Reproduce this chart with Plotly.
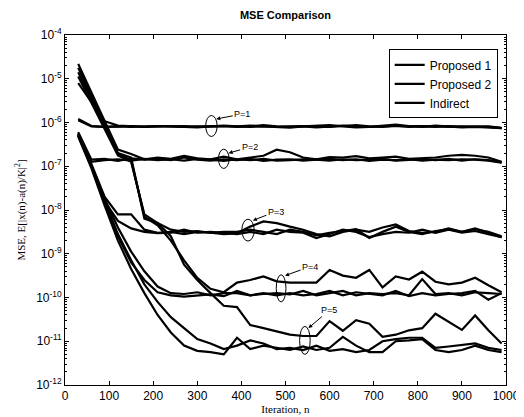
import plotly.graph_objects as go

# Iteration index (samples every 30 iterations)
iterations = [30, 60, 90, 120, 150, 180, 210, 240, 270, 300, 330, 360, 390, 420, 450, 480,
              510, 540, 570, 600, 630, 660, 690, 720, 750, 780, 810, 840, 870, 900, 930, 960, 990]

# log10(MSE) values
p1_prop1 = [-5.92, -6.08, -6.10, -6.09, -6.10, -6.09, -6.08, -6.09, -6.10, -6.09, -6.09, -6.10, -6.09, -6.07, -6.09, -6.10,
            -6.09, -6.08, -6.09, -6.10, -6.08, -6.06, -6.09, -6.10, -6.08, -6.09, -6.08, -6.09, -6.10, -6.09, -6.09, -6.10, -6.13]
p1_prop2 = [-5.95, -6.09, -6.10, -6.09, -6.08, -6.10, -6.09, -6.09, -6.08, -6.10, -6.09, -6.08, -6.10, -6.09, -6.06, -6.09,
            -6.10, -6.09, -6.11, -6.09, -6.07, -6.09, -6.10, -6.09, -6.07, -6.10, -6.09, -6.10, -6.08, -6.10, -6.09, -6.09, -6.12]
p1_ind = [-5.10, -5.55, -5.97, -6.07, -6.09, -6.10, -6.08, -6.09, -6.10, -6.11, -6.09, -6.07, -6.09, -6.10, -6.09, -6.10,
          -6.12, -6.09, -6.08, -6.06, -6.09, -6.11, -6.10, -6.08, -6.05, -6.08, -6.10, -6.07, -6.09, -6.11, -6.10, -6.11, -6.13]

p2_prop1 = [-6.22, -6.85, -6.83, -6.88, -6.82, -6.85, -6.83, -6.86, -6.80, -6.85, -6.87, -6.84, -6.86, -6.83, -6.88, -6.85,
            -6.84, -6.87, -6.85, -6.83, -6.86, -6.84, -6.88, -6.85, -6.86, -6.84, -6.87, -6.85, -6.86, -6.84, -6.85, -6.87, -6.92]
p2_prop2 = [-6.25, -6.90, -6.86, -6.84, -6.87, -6.83, -6.86, -6.84, -6.87, -6.83, -6.85, -6.88, -6.84, -6.86, -6.83, -6.87,
            -6.86, -6.84, -6.85, -6.87, -6.84, -6.86, -6.85, -6.83, -6.87, -6.85, -6.84, -6.86, -6.83, -6.87, -6.84, -6.86, -6.91]
p2_ind = [-4.66, -5.32, -5.98, -6.62, -6.72, -6.84, -6.80, -6.83, -6.76, -6.82, -6.84, -6.78, -6.84, -6.80, -6.76, -6.62,
          -6.68, -6.80, -6.84, -6.79, -6.80, -6.77, -6.82, -6.80, -6.78, -6.83, -6.82, -6.80, -6.76, -6.74, -6.76, -6.80, -6.90]

p3_prop1 = [-6.25, -6.95, -7.70, -8.10, -8.10, -8.45, -8.52, -8.50, -8.55, -8.50, -8.52, -8.55, -8.53, -8.38, -8.26, -8.30,
            -8.38, -8.45, -8.55, -8.60, -8.50, -8.45, -8.50, -8.40, -8.33, -8.48, -8.52, -8.50, -8.42, -8.50, -8.42, -8.52, -8.62]
p3_prop2 = [-6.27, -7.00, -7.80, -8.25, -8.42, -8.50, -8.53, -8.52, -8.45, -8.52, -8.50, -8.52, -8.55, -8.50, -8.55, -8.45,
            -8.50, -8.52, -8.64, -8.55, -8.45, -8.50, -8.62, -8.55, -8.50, -8.52, -8.45, -8.52, -8.45, -8.52, -8.48, -8.55, -8.62]
p3_ind = [-4.75, -5.40, -6.05, -6.70, -6.80, -8.20, -8.30, -8.45, -8.50, -8.48, -8.52, -8.50, -8.50, -8.45, -8.50, -8.55,
          -8.45, -8.50, -8.58, -8.52, -8.48, -8.44, -8.64, -8.50, -8.38, -8.50, -8.55, -8.48, -8.44, -8.50, -8.44, -8.50, -8.60]

p4_prop1 = [-6.30, -7.00, -7.85, -8.60, -9.20, -9.60, -9.88, -9.95, -9.98, -9.95, -9.93, -9.97, -9.85, -9.95, -9.90, -9.95,
            -9.90, -9.95, -9.92, -9.85, -9.95, -9.88, -9.92, -9.95, -9.85, -9.97, -9.90, -9.95, -9.92, -9.90, -9.85, -10.05, -9.90]
p4_prop2 = [-6.28, -6.98, -7.75, -8.40, -8.95, -9.40, -9.75, -9.90, -9.92, -9.88, -9.95, -9.90, -9.90, -9.95, -9.92, -9.90,
            -9.93, -9.85, -9.95, -9.90, -9.85, -9.95, -9.90, -9.92, -9.90, -9.95, -9.58, -9.92, -9.90, -9.95, -9.88, -9.90, -9.92]
p4_ind = [-4.85, -5.48, -6.10, -6.72, -6.86, -8.15, -8.35, -8.70, -9.15, -9.55, -9.80, -9.88, -9.66, -9.60, -9.52, -9.63,
          -9.66, -9.66, -9.66, -9.37, -9.50, -9.55, -9.37, -9.77, -9.52, -9.59, -9.41, -9.64, -9.70, -9.66, -9.55, -9.72, -9.88]

p5_prop1 = [-6.32, -7.05, -7.90, -8.70, -9.35, -9.90, -10.40, -10.80, -11.10, -11.22, -11.25, -11.30, -10.92, -11.18, -11.10, -11.15,
            -11.20, -11.12, -11.20, -11.15, -10.90, -11.10, -11.25, -11.25, -11.00, -10.98, -10.95, -11.20, -11.25, -11.20, -11.10, -11.20, -11.25]
p5_prop2 = [-6.30, -7.00, -7.80, -8.55, -9.15, -9.70, -10.10, -10.45, -10.70, -10.95, -11.05, -11.18, -11.10, -10.98, -11.05, -11.18,
            -11.15, -11.20, -11.10, -11.22, -11.18, -11.25, -11.20, -11.00, -10.95, -10.92, -10.92, -11.15, -11.12, -11.08, -11.05, -11.15, -11.20]
p5_ind = [-4.95, -5.55, -6.15, -6.75, -6.90, -8.10, -8.30, -8.60, -9.25, -9.60, -9.90, -10.19, -10.22, -10.63, -10.70, -10.78,
          -10.85, -10.88, -10.88, -10.54, -10.76, -10.52, -10.60, -10.90, -10.85, -10.75, -10.70, -10.37, -10.55, -10.74, -10.41, -10.75, -11.05]

series = {
    "Proposed 1": [p1_prop1, p2_prop1, p3_prop1, p4_prop1, p5_prop1],
    "Proposed 2": [p1_prop2, p2_prop2, p3_prop2, p4_prop2, p5_prop2],
    "Indirect": [p1_ind, p2_ind, p3_ind, p4_ind, p5_ind],
}

x_ticks = [0, 100, 200, 300, 400, 500, 600, 700, 800, 900, 1000]
y_decades = [-12, -11, -10, -9, -8, -7, -6, -5, -4]
y_tick_labels = ["10<sup>-12</sup>", "10<sup>-11</sup>", "10<sup>-10</sup>", "10<sup>-9</sup>", "10<sup>-8</sup>",
                 "10<sup>-7</sup>", "10<sup>-6</sup>", "10<sup>-5</sup>", "10<sup>-4</sup>"]

# annotation markers: label, ellipse centre (iteration, log10), arrow head, ellipse half-size (iter, decades), label offset px
labels = [
    ("P=1", 332, -6.08, 343, -5.92, 13, 0.24, 26, -5),
    ("P=2", 360, -6.83, 371, -6.70, 12, 0.22, 21, -6),
    ("P=3", 415, -8.46, 426, -8.24, 14, 0.25, 23, -9),
    ("P=4", 490, -9.79, 499, -9.50, 11, 0.31, 25, -9),
    ("P=5", 544, -10.98, 552, -10.70, 12, 0.32, 21, -18),
]

y_lo, y_hi = y_decades[0], y_decades[-1]

fig = go.Figure()
for name, curves in series.items():
    for k, c in enumerate(curves):
        fig.add_trace(go.Scatter(
            x=iterations, y=[10 ** v for v in c], mode="lines",
            line=dict(color="black", width=2.2),
            name=name, legendgroup=name, showlegend=(k == 0),
        ))

shapes = []
annotations = []
for lab, cx, cy, hx, hy, dx, dy, ax, ay in labels:
    shapes.append(dict(type="circle", xref="x", yref="paper", layer="above",
                       x0=cx - dx, x1=cx + dx,
                       y0=(cy - dy - y_lo) / (y_hi - y_lo), y1=(cy + dy - y_lo) / (y_hi - y_lo),
                       line=dict(color="black", width=1)))
    annotations.append(dict(x=hx, y=hy, xref="x", yref="y", text=lab, showarrow=True,
                            ax=ax, ay=ay, arrowhead=2, arrowsize=0.8, arrowwidth=1,
                            arrowcolor="black", standoff=0,
                            font=dict(family="Liberation Sans, Arial", size=9, color="black")))

axis_common = dict(showline=True, linecolor="black", linewidth=1, mirror="ticks",
                   ticks="inside", ticklen=4, tickcolor="black", showgrid=False, zeroline=False)

fig.update_layout(
    width=524, height=417,
    margin=dict(l=53, r=16, t=27, b=28),
    paper_bgcolor="white", plot_bgcolor="white",
    title=dict(text="<b>MSE Comparison</b>", x=0.5, xref="paper", yref="container", y=0.993, yanchor="top",
               pad=dict(t=0, b=0),
               font=dict(family="Liberation Sans, Arial", size=11, color="black")),
    font=dict(family="Liberation Sans, Arial", color="black"),
    xaxis=dict(range=[0, 1000], tickvals=x_ticks, tickfont=dict(size=12),
               title=dict(text="Iteration, n", standoff=2,
                          font=dict(family="Liberation Serif, Times New Roman", size=11)),
               **axis_common),
    yaxis=dict(type="log", range=[y_lo, y_hi], tickvals=[10 ** d for d in y_decades],
               ticktext=y_tick_labels, tickfont=dict(size=12),
               minor=dict(ticks="inside", ticklen=2, tickcolor="black",
                          tickvals=[m * 10 ** d for d in y_decades[:-1] for m in range(2, 10)]),
               title=dict(text="MSE, E[|x(n)-a(n)/K|<sup>2</sup>]", standoff=8,
                          font=dict(family="Liberation Serif, Times New Roman", size=11)),
               **axis_common),
    legend=dict(x=0.734, y=0.959, xanchor="left", yanchor="top", bgcolor="white",
                bordercolor="black", borderwidth=1, font=dict(size=12),
                tracegroupgap=0, itemwidth=30),
    shapes=shapes, annotations=annotations,
)

fig.write_html("out.html")
